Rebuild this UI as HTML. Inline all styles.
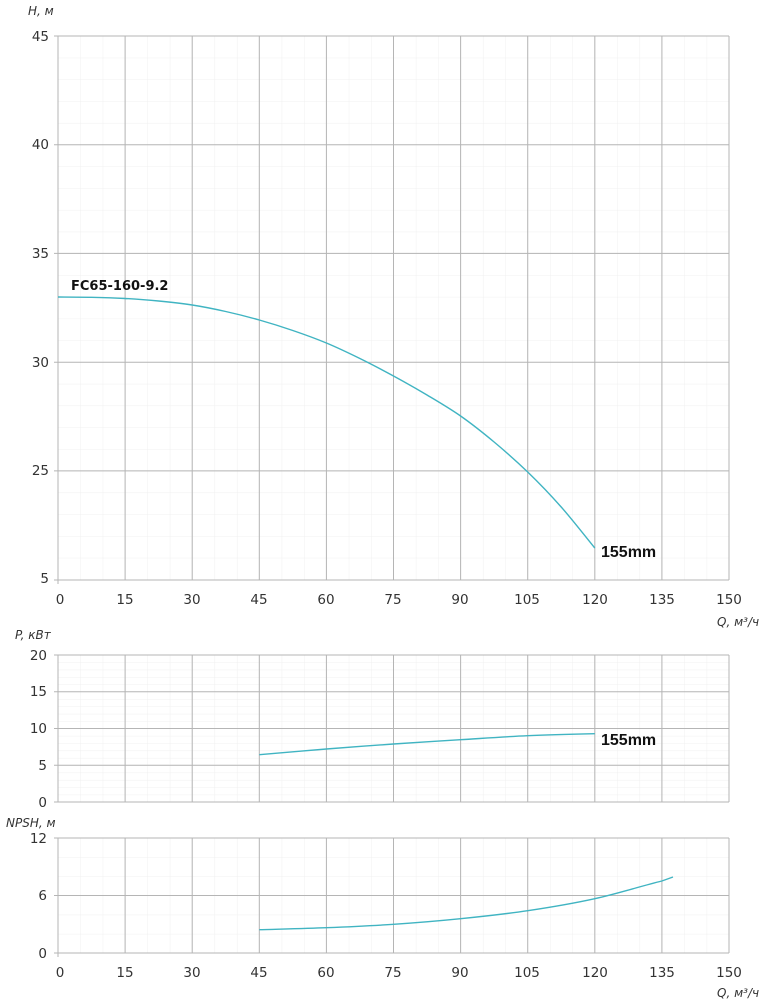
<!DOCTYPE html>
<html><head><meta charset="utf-8"><style>
html,body{margin:0;padding:0;background:#fff}
svg{display:block}
text{font-family:"DejaVu Sans","Liberation Sans",sans-serif;fill:#333;font-size:13.5px}
.it{font-style:italic;font-size:12px}
.b{font-family:"Liberation Sans",sans-serif;font-weight:bold;fill:#111;font-size:16px}
.maj{stroke:#b5b5b5;stroke-width:1}
</style></head><body>
<svg width="765" height="1000" viewBox="0 0 765 1000" xmlns="http://www.w3.org/2000/svg">
<defs>
<pattern id="p1" x="58" y="36" width="22.367" height="21.74" patternUnits="userSpaceOnUse"><path d="M0 0V21.74M0 0H22.367" stroke="#f0f0f0" fill="none"/></pattern>
<pattern id="p2" x="58" y="655" width="22.367" height="7.35" patternUnits="userSpaceOnUse"><path d="M0 0V7.35M0 0H22.367" stroke="#f0f0f0" fill="none"/></pattern>
<pattern id="p3" x="58" y="838" width="22.367" height="19.17" patternUnits="userSpaceOnUse"><path d="M0 0V19.17M0 0H22.367" stroke="#f0f0f0" fill="none"/></pattern>
</defs>
<rect x="58" y="36" width="671" height="544" fill="url(#p1)"/>
<rect x="58" y="655" width="671" height="147" fill="url(#p2)"/>
<rect x="58" y="838" width="671" height="115" fill="url(#p3)"/>
<g class="maj">
<path d="M58 36V584M125.1 36V580M192.2 36V580M259.3 36V580M326.4 36V580M393.5 36V580M460.6 36V580M527.7 36V580M594.8 36V580M661.9 36V580M729 36V580"/>
<path d="M54 36H729M54 144.7H729M54 253.4H729M54 362.2H729M54 470.9H729M54 580H729"/>
<path d="M58 655V802M125.1 655V802M192.2 655V802M259.3 655V802M326.4 655V802M393.5 655V802M460.6 655V802M527.7 655V802M594.8 655V802M661.9 655V802M729 655V802"/>
<path d="M54 655H729M54 691.8H729M54 728.5H729M54 765.3H729M54 802H729"/>
<path d="M58 838V957M125.1 838V953M192.2 838V953M259.3 838V953M326.4 838V953M393.5 838V953M460.6 838V953M527.7 838V953M594.8 838V953M661.9 838V953M729 838V953"/>
<path d="M54 838H729M54 895.5H729M54 953H729"/>
</g>
<g fill="none" stroke="#40b4c2" stroke-width="1.4">
<path d="M58 297 C63.6 297.05 80.3 297.05 91.5 297.3 S113.9 297.88 125.1 298.5 S147.4 299.92 158.6 301 S181 303.25 192.2 305 S214.5 309 225.7 311.5 S248.1 316.83 259.3 320 S281.6 326.67 292.8 330.5 S315.2 338.33 326.4 343 S348.7 353 359.9 358.5 S382.3 369.92 393.5 376 S415.8 388.33 427 395 S449.4 408.17 460.6 416 S482.9 432.67 494.1 442 S516.5 461.17 527.7 472 S550 494.33 561.2 507 S583.6 534.3 594.8 548"/>
<path d="M259.3 754.7 C270.5 753.75 304 750.78 326.4 749 S371.1 745.55 393.5 744 S438.2 741.08 460.6 739.7 S505.3 736.7 527.7 735.7 S572.4 734.2 594.8 733.7"/>
<path d="M259.3 929.7 C270.5 929.3 304 928.6 326.4 927.7 S371.1 925.8 393.5 924.3 S438.2 920.97 460.6 918.7 S505.3 914.03 527.7 910.7 S572.4 903.65 594.8 898.7 S639.5 886.5 661.9 881 L673 877"/>
</g>
<text x="28" y="15" class="it">H, м</text>
<g text-anchor="end">
<text x="49" y="41">45</text><text x="49" y="149">40</text><text x="49" y="258">35</text><text x="49" y="367">30</text><text x="49" y="475">25</text><text x="49" y="583">5</text>
<text x="47" y="660">20</text><text x="47" y="696">15</text><text x="47" y="733">10</text><text x="47" y="770">5</text><text x="47" y="807">0</text>
<text x="47" y="843">12</text><text x="47" y="900">6</text><text x="47" y="958">0</text>
</g>
<g text-anchor="middle">
<text x="60" y="604">0</text><text x="125" y="604">15</text><text x="192" y="604">30</text><text x="259" y="604">45</text><text x="326" y="604">60</text><text x="393" y="604">75</text><text x="460" y="604">90</text><text x="527" y="604">105</text><text x="595" y="604">120</text><text x="662" y="604">135</text><text x="729" y="604">150</text>
<text x="60" y="977">0</text><text x="125" y="977">15</text><text x="192" y="977">30</text><text x="259" y="977">45</text><text x="326" y="977">60</text><text x="393" y="977">75</text><text x="460" y="977">90</text><text x="527" y="977">105</text><text x="595" y="977">120</text><text x="662" y="977">135</text><text x="729" y="977">150</text>
</g>
<text x="717" y="626" class="it">Q, м³/ч</text>
<text x="717" y="997" class="it">Q, м³/ч</text>
<text x="15" y="639" class="it">P, кВт</text>
<text x="6" y="827" class="it">NPSH, м</text>
<text x="71" y="290" class="b" style="font-family:'DejaVu Sans',sans-serif;font-size:13px">FC65-160-9.2</text>
<text x="601" y="557" class="b">155mm</text>
<text x="601" y="745" class="b">155mm</text>
</svg>
</body></html>
